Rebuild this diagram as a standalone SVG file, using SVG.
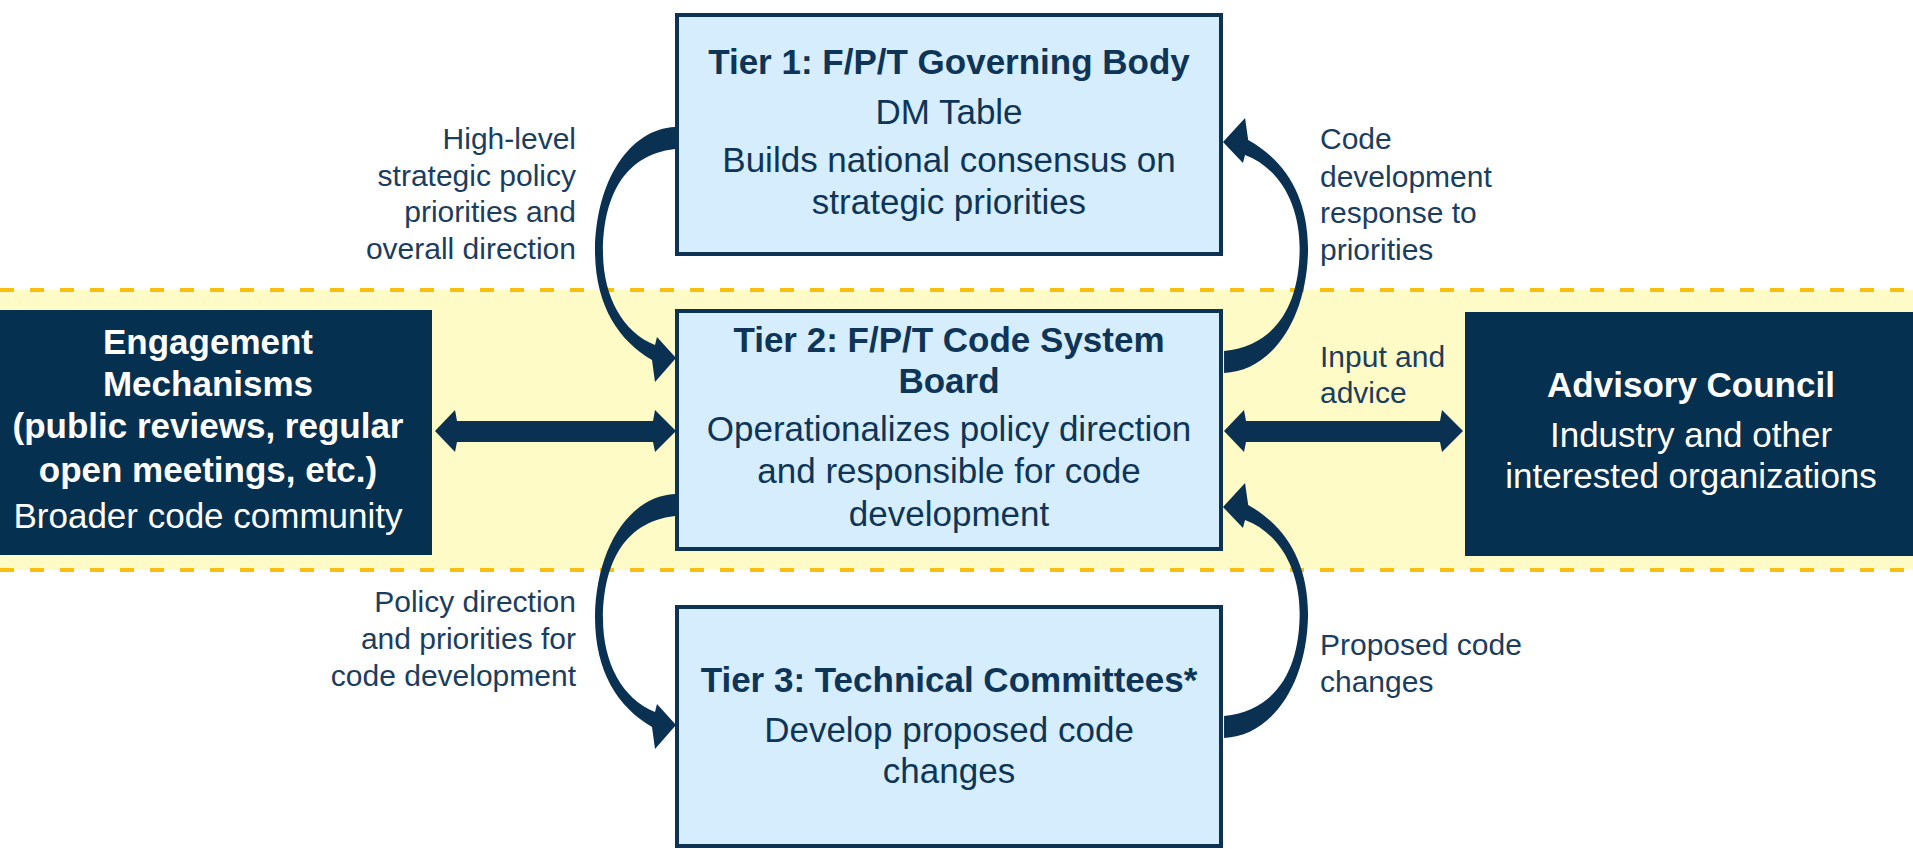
<svg xmlns="http://www.w3.org/2000/svg" width="1913" height="849" viewBox="0 0 1913 849">
<style>
.t{font-family:"Liberation Sans",Arial,sans-serif;font-size:35px;fill:#0E3557;text-anchor:middle}
.b{font-weight:bold}
.w{fill:#FFFFFF}
.lbl{font-family:"Liberation Sans",Arial,sans-serif;font-size:30px;fill:#1B3D5E}
.end{text-anchor:end}
.tier{fill:#D5EDFC;stroke:#0C3354;stroke-width:4}
.dark{fill:#06304F}
.dash{stroke:#F9BE0E;stroke-width:4;stroke-dasharray:14 16;fill:none}
.conn{fill:#0A3152}
</style>
<defs>
<path id="curve" d="M675,127 C630,129 596,180 595,250 C595,305 618,340 652,360 L655,382 L676,358 L657,337 L655,345 C622,332 603,295 603,252 C603,200 622,155 675,149 Z"/>
</defs>
<rect width="1913" height="849" fill="#FFFFFF"/>
<g id="band">
<rect x="0" y="290" width="1913" height="280" fill="#FFFBC6"/>
<line class="dash" x1="0" y1="290" x2="1913" y2="290"/>
<line class="dash" x1="0" y1="570" x2="1913" y2="570"/>
</g>
<g id="tier1">
<rect class="tier" x="677" y="15" width="544" height="239"/>
<text class="t b" x="949" y="74">Tier 1: F/P/T Governing Body</text>
<text class="t" x="949" y="124">DM Table</text>
<text class="t" x="949" y="172">Builds national consensus on</text>
<text class="t" x="949" y="214">strategic priorities</text>
</g>
<g id="tier2">
<rect class="tier" x="677" y="311" width="544" height="238"/>
<text class="t b" x="949" y="352">Tier 2: F/P/T Code System</text>
<text class="t b" x="949" y="393">Board</text>
<text class="t" x="949" y="441">Operationalizes policy direction</text>
<text class="t" x="949" y="483">and responsible for code</text>
<text class="t" x="949" y="526">development</text>
</g>
<g id="tier3">
<rect class="tier" x="677" y="607" width="544" height="239"/>
<text class="t b" x="949" y="692">Tier 3: Technical Committees*</text>
<text class="t" x="949" y="742">Develop proposed code</text>
<text class="t" x="949" y="783">changes</text>
</g>
<g id="engagement">
<rect class="dark" x="-5" y="310" width="437" height="245"/>
<text class="t b w" x="208" y="354">Engagement</text>
<text class="t b w" x="208" y="396">Mechanisms</text>
<text class="t b w" x="208" y="438">(public reviews, regular</text>
<text class="t b w" x="208" y="482">open meetings, etc.)</text>
<text class="t w" x="208" y="528">Broader code community</text>
</g>
<g id="advisory">
<rect class="dark" x="1465" y="312" width="460" height="244"/>
<text class="t b w" x="1691" y="397">Advisory Council</text>
<text class="t w" x="1691" y="447">Industry and other</text>
<text class="t w" x="1691" y="488">interested organizations</text>
</g>
<g id="connectors">
<use href="#curve" class="conn"/>
<use href="#curve" class="conn" transform="translate(0,367)"/>
<use href="#curve" class="conn" transform="translate(1223,0) scale(1.05,1) translate(-1223,0) rotate(180 949.5 250)"/>
<use href="#curve" class="conn" transform="translate(0,365) translate(1223,0) scale(1.05,1) translate(-1223,0) rotate(180 949.5 250)"/>
<path class="conn" d="M435,431 L455,410 L457,421 L653,421 L655,410 L676,431 L655,452 L653,442 L457,442 L455,452 Z"/>
<path class="conn" d="M1224,431 L1244,410 L1246,421 L1440,421 L1442,410 L1463,431 L1442,452 L1440,442 L1246,442 L1244,452 Z"/>
</g>
<g id="labels">
<text class="lbl end" x="576" y="149">High-level</text>
<text class="lbl end" x="576" y="186">strategic policy</text>
<text class="lbl end" x="576" y="222">priorities and</text>
<text class="lbl end" x="576" y="259">overall direction</text>
<text class="lbl" x="1320" y="149">Code</text>
<text class="lbl" x="1320" y="187">development</text>
<text class="lbl" x="1320" y="223">response to</text>
<text class="lbl" x="1320" y="260">priorities</text>
<text class="lbl" x="1320" y="367">Input and</text>
<text class="lbl" x="1320" y="403">advice</text>
<text class="lbl end" x="576" y="612">Policy direction</text>
<text class="lbl end" x="576" y="649">and priorities for</text>
<text class="lbl end" x="576" y="686">code development</text>
<text class="lbl" x="1320" y="655">Proposed code</text>
<text class="lbl" x="1320" y="692">changes</text>
</g>
</svg>
